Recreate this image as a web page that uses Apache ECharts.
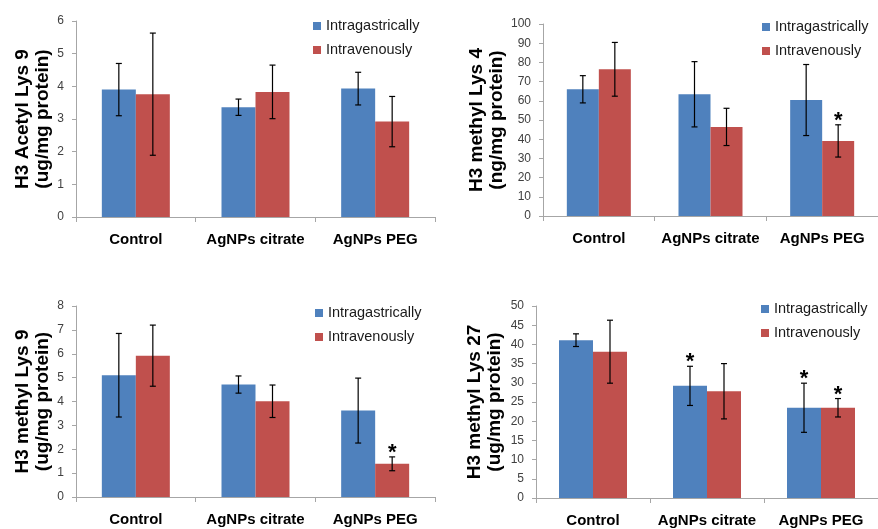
<!DOCTYPE html>
<html>
<head>
<meta charset="utf-8">
<script src="https://cdn.jsdelivr.net/npm/echarts@6/dist/echarts.min.js"></script>
<style>
html,body{margin:0;padding:0;background:#fff;}
#chart{width:878px;height:529px;}
</style>
</head>
<body>
<div id="chart"></div>
<script>
// ---- data ----
const categories = ['Control', 'AgNPs citrate', 'AgNPs PEG'];
const seriesNames = ['Intragastrically', 'Intravenously'];

// Panel A: H3 Acetyl Lys 9 (ug/mg protein)
const acK9Ig = [3.90, 3.36, 3.93];
const acK9IgErr = [0.80, 0.25, 0.50];
const acK9Iv = [3.76, 3.83, 2.92];
const acK9IvErr = [1.87, 0.82, 0.77];
const acK9IgStar = [0, 0, 0];
const acK9IvStar = [0, 0, 0];

// Panel B: H3 methyl Lys 4 (ng/mg protein)
const meK4Ig = [66.0, 63.4, 60.4];
const meK4IgErr = [7.1, 17.0, 18.5];
const meK4Iv = [76.4, 46.4, 39.1];
const meK4IvErr = [14.0, 9.7, 8.4];
const meK4IgStar = [0, 0, 0];
const meK4IvStar = [0, 0, 1];

// Panel C: H3 methyl Lys 9 (ug/mg protein)
const meK9Ig = [5.10, 4.71, 3.62];
const meK9IgErr = [1.75, 0.36, 1.36];
const meK9Iv = [5.92, 4.01, 1.39];
const meK9IvErr = [1.28, 0.68, 0.29];
const meK9IgStar = [0, 0, 0];
const meK9IvStar = [0, 0, 1];

// Panel D: H3 methyl Lys 27 (ug/mg protein)
const meK27Ig = [41.1, 29.2, 23.5];
const meK27IgErr = [1.65, 5.1, 6.4];
const meK27Iv = [38.1, 27.8, 23.5];
const meK27IvErr = [8.2, 7.2, 2.4];
const meK27IgStar = [0, 1, 1];
const meK27IvStar = [0, 0, 1];

// axis settings (tick labels)
const axisMax = [6, 100, 8, 50];
const axisInterval = [1, 10, 1, 5];
const axisTitles = [
  'H3 Acetyl Lys 9\n(ug/mg protein)',
  'H3 methyl Lys 4\n(ng/mg protein)',
  'H3 methyl Lys 9\n(ug/mg protein)',
  'H3 methyl Lys 27\n(ug/mg protein)'
];

// ---- layout / style ----
const FONT = '"Liberation Sans", Arial, sans-serif';
const BLUE = '#4F81BD', RED = '#C0504D', AXIS = '#a6a6a6';
const panels = [
  {ig: acK9Ig, igErr: acK9IgErr, iv: acK9Iv, ivErr: acK9IvErr, igStar: acK9IgStar, ivStar: acK9IvStar,
   grid: {left: 76, top: 21, width: 359, height: 196}, bw: 34, nameGap: 23, legend: {left: 313, top: 18}},
  {ig: meK4Ig, igErr: meK4IgErr, iv: meK4Iv, ivErr: meK4IvErr, igStar: meK4IgStar, ivStar: meK4IvStar,
   grid: {left: 543, top: 24, width: 337, height: 192}, bw: 32, nameGap: 34, legend: {left: 762, top: 19}},
  {ig: meK9Ig, igErr: meK9IgErr, iv: meK9Iv, ivErr: meK9IvErr, igStar: meK9IgStar, ivStar: meK9IvStar,
   grid: {left: 76, top: 306, width: 359, height: 191}, bw: 34, nameGap: 23, legend: {left: 315, top: 305}},
  {ig: meK27Ig, igErr: meK27IgErr, iv: meK27Iv, ivErr: meK27IvErr, igStar: meK27IgStar, ivStar: meK27IvStar,
   grid: {left: 536, top: 306, width: 351, height: 192}, bw: 34, nameGap: 31, legend: {left: 761, top: 301}}
];

const grids = [], xAxes = [], yAxes = [], series = [], legends = [];

panels.forEach((p, i) => {
  grids.push(Object.assign({containLabel: false}, p.grid));
  xAxes.push({
    type: 'category', gridIndex: i, data: categories,
    axisLine: {show: true, lineStyle: {color: AXIS, width: 1}},
    axisTick: {show: true, length: 5, lineStyle: {color: AXIS}},
    axisLabel: {interval: 0, hideOverlap: false, fontFamily: FONT, fontWeight: 'bold', fontSize: 15, color: '#000', margin: 15}
  });
  yAxes.push({
    type: 'value', gridIndex: i, min: 0, max: axisMax[i], interval: axisInterval[i],
    axisLine: {show: true, lineStyle: {color: AXIS, width: 1}},
    axisTick: {show: true, length: 4, lineStyle: {color: AXIS}},
    splitLine: {show: false},
    axisLabel: {fontFamily: FONT, fontSize: 12, color: '#404040', margin: 12},
    name: axisTitles[i], nameLocation: 'middle', nameRotate: 90, nameGap: p.nameGap,
    nameTextStyle: {fontFamily: FONT, fontWeight: 'bold', fontSize: 19, lineHeight: 20, color: '#000'}
  });
  series.push({
    name: seriesNames[0], type: 'bar', xAxisIndex: i, yAxisIndex: i, data: p.ig,
    barWidth: p.bw, barGap: '0%', itemStyle: {color: BLUE}
  });
  series.push({
    name: seriesNames[1], type: 'bar', xAxisIndex: i, yAxisIndex: i, data: p.iv,
    barWidth: p.bw, barGap: '0%', itemStyle: {color: RED}
  });
  const errData = [];
  categories.forEach((c, k) => {
    errData.push([k, p.ig[k], p.igErr[k], -1, p.igStar[k]]);
    errData.push([k, p.iv[k], p.ivErr[k], 1, p.ivStar[k]]);
  });
  const bw = p.bw;
  series.push({
    type: 'custom', xAxisIndex: i, yAxisIndex: i, data: errData, z: 10,
    renderItem: function (params, api) {
      const idx = api.value(0), mean = api.value(1), err = api.value(2), side = api.value(3), star = api.value(4);
      const x = api.coord([idx, mean])[0] + side * bw / 2;
      const yT = api.coord([idx, mean + err])[1];
      const yB = api.coord([idx, mean - err])[1];
      const st = {stroke: '#000', lineWidth: 1.2};
      const children = [
        {type: 'line', shape: {x1: x, y1: yT, x2: x, y2: yB}, style: st},
        {type: 'line', shape: {x1: x - 3, y1: yT, x2: x + 3, y2: yT}, style: st},
        {type: 'line', shape: {x1: x - 3, y1: yB, x2: x + 3, y2: yB}, style: st}
      ];
      if (star) {
        children.push({type: 'text', style: {text: '*', x: x, y: yT - 4, align: 'center', verticalAlign: 'middle',
          font: 'bold 22px ' + FONT, fill: '#000'}});
      }
      return {type: 'group', children: children};
    }
  });
  legends.push({
    orient: 'vertical', left: p.legend.left, top: p.legend.top, padding: 0,
    itemWidth: 8, itemHeight: 8, itemGap: 8, icon: 'rect',
    data: seriesNames, selectedMode: false,
    textStyle: {fontFamily: FONT, fontSize: 14.5, lineHeight: 16, color: '#1a1a1a'}
  });
});

const chart = echarts.init(document.getElementById('chart'), null, {renderer: 'canvas'});
chart.setOption({
  backgroundColor: '#fff',
  animation: false,
  grid: grids, xAxis: xAxes, yAxis: yAxes, legend: legends, series: series
});
</script>
</body>
</html>
